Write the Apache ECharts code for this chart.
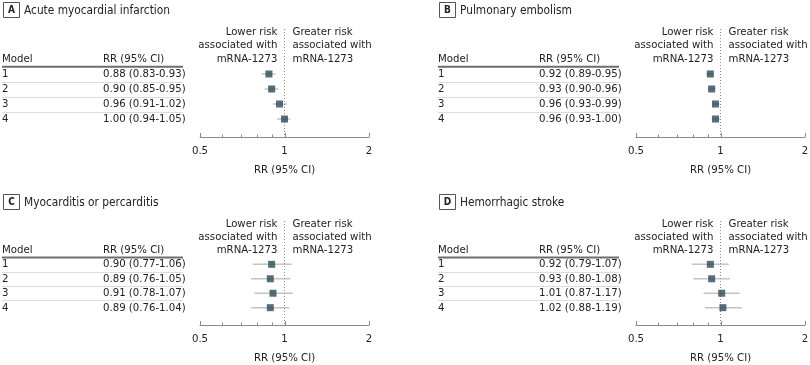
<!DOCTYPE html>
<html><head><meta charset="utf-8">
<script src="https://cdn.jsdelivr.net/npm/echarts@6/dist/echarts.min.js"></script>
<style>html,body{margin:0;padding:0;background:#fff}#c{width:810px;height:365px}</style>
</head><body><div id="c"></div>
<script>
// ---- data ----
const panelLetters = ['A', 'B', 'C', 'D'];
const panelTitles = ['Acute myocardial infarction', 'Pulmonary embolism', 'Myocarditis or percarditis', 'Hemorrhagic stroke'];
const models = ['1', '2', '3', '4'];
const rrA = [0.88, 0.90, 0.96, 1.00], loA = [0.83, 0.85, 0.91, 0.94], hiA = [0.93, 0.95, 1.02, 1.05];
const rrB = [0.92, 0.93, 0.96, 0.96], loB = [0.89, 0.90, 0.93, 0.93], hiB = [0.95, 0.96, 0.99, 1.00];
const rrC = [0.90, 0.89, 0.91, 0.89], loC = [0.77, 0.76, 0.78, 0.76], hiC = [1.06, 1.05, 1.07, 1.04];
const rrD = [0.92, 0.93, 1.01, 1.02], loD = [0.79, 0.80, 0.87, 0.88], hiD = [1.07, 1.08, 1.17, 1.19];
const xTicks = [0.5, 0.6, 0.7, 0.8, 0.9, 1, 2];
const xTickLabels = ['0.5', '1', '2'];
const xMajor = [0.5, 1, 2];
const headerModel = 'Model', headerRR = 'RR (95% CI)', axisTitle = 'RR (95% CI)';
const lowerText = ['Lower risk', 'associated with', 'mRNA-1273'];
const greaterText = ['Greater risk', 'associated with', 'mRNA-1273'];

const panels = [
  {rr: rrA, lo: loA, hi: hiA},
  {rr: rrB, lo: loB, hi: hiB},
  {rr: rrC, lo: loC, hi: hiC},
  {rr: rrD, lo: loD, hi: hiD}
];

// ---- layout ----
const FF = "'Liberation Sans Narrow','DejaVu Sans Condensed','Roboto',sans-serif";
const FS = 11.3;
const offsets = [[0, 0], [436, 0], [0, 192], [436, 192]];
const yMin = -2, yMax = 5.2;
const TXT = '#222';

const chart = echarts.init(document.getElementById('c'), null, {renderer: 'canvas'});
const grids = [], xAxes = [], yAxes = [], series = [], graphics = [];

panels.forEach((p, k) => {
  const [ox, oy] = offsets[k];
  grids.push({left: 200 + ox, width: 169, top: 29 + oy, height: 108});
  xAxes.push({
    gridIndex: k, type: 'log', logBase: 2, min: 0.5, max: 2, position: 'bottom',
    axisLine: {show: true, onZero: false, lineStyle: {color: '#8a8a8a', width: 1}},
    axisTick: {show: false}, axisLabel: {show: false}, splitLine: {show: false},
    name: axisTitle, nameLocation: 'middle', nameGap: 28,
    nameTextStyle: {color: TXT, fontSize: FS, fontFamily: FF}
  });
  yAxes.push({gridIndex: k, type: 'value', inverse: true, min: yMin, max: yMax, show: false});

  // table + direction labels
  series.push({
    type: 'custom', xAxisIndex: k, yAxisIndex: k, silent: true, clip: false,
    data: models.map((m, i) => [1, i + 1]),
    renderItem: (params, api) => {
      const i = params.dataIndex;
      const y = api.coord([1, i + 1])[1];
      const txt = (t, x, yy, align) => ({type: 'text', style: {text: t, x: x, y: yy, fill: TXT, fontSize: FS, fontFamily: FF, align: align || 'left', verticalAlign: 'middle'}});
      const ch = [
        txt(models[i], ox + 2, y),
        txt(p.rr[i].toFixed(2) + ' (' + p.lo[i].toFixed(2) + '-' + p.hi[i].toFixed(2) + ')', ox + 103, y)
      ];
      if (i < 3) {
        const ys = Math.round(api.coord([1, i + 1.5])[1]) + 0.5;
        ch.push({type: 'line', shape: {x1: ox + 2, y1: ys, x2: ox + 183, y2: ys}, style: {stroke: '#dcdcdc', lineWidth: 1}});
      }
      if (i === 0) {
        const yh = api.coord([1, 0])[1];
        ch.push(txt(headerModel, ox + 2, yh));
        ch.push(txt(headerRR, ox + 103, yh));
        const yl = api.coord([1, 0.52])[1];
        ch.push({type: 'line', shape: {x1: ox + 2, y1: yl, x2: ox + 183, y2: yl}, style: {stroke: '#6e6e6e', lineWidth: 2}});
        const xc = api.coord([1, 0])[0];
        for (let j = 0; j < 3; j++) {
          const yy = api.coord([1, -0.9 * (2 - j)])[1];
          ch.push(txt(lowerText[j], xc - 7, yy, 'right'));
          ch.push(txt(greaterText[j], xc + 8, yy, 'left'));
        }
      }
      return {type: 'group', children: ch};
    }
  });

  // axis ticks and labels
  series.push({
    type: 'custom', xAxisIndex: k, yAxisIndex: k, silent: true, clip: false,
    data: xTicks.map(v => [v, yMax]),
    renderItem: (params, api) => {
      const v = api.value(0);
      const pt = api.coord([v, yMax]);
      const mi = xMajor.indexOf(v);
      const len = mi >= 0 ? 4 : 2.5;
      const x = Math.round(pt[0]) + 0.5;
      const ch = [{type: 'line', shape: {x1: x, y1: pt[1], x2: x, y2: pt[1] - len}, style: {stroke: '#8a8a8a', lineWidth: 1}}];
      if (mi >= 0) ch.push({type: 'text', style: {text: xTickLabels[mi], x: pt[0], y: pt[1] + 14, fill: TXT, fontSize: FS, fontFamily: FF, align: 'center', verticalAlign: 'middle'}});
      return {type: 'group', children: ch};
    }
  });

  // confidence intervals + reference line
  series.push({
    type: 'custom', xAxisIndex: k, yAxisIndex: k, silent: true,
    data: models.map((m, i) => [p.lo[i], p.hi[i], i + 1]),
    renderItem: (params, api) => {
      const a = api.coord([api.value(0), api.value(2)]);
      const b = api.coord([api.value(1), api.value(2)]);
      return {type: 'line', shape: {x1: a[0], y1: a[1], x2: b[0], y2: b[1]}, style: {stroke: '#c4c4c4', lineWidth: 1.5}};
    },
    markLine: {
      silent: true, symbol: 'none', label: {show: false},
      lineStyle: {type: [1, 2], color: '#8a8a8a', width: 1},
      data: [{xAxis: 1}]
    }
  });

  // point estimates
  series.push({
    type: 'scatter', xAxisIndex: k, yAxisIndex: k, silent: true,
    symbol: 'rect', symbolSize: 7,
    itemStyle: {color: '#2c4a55'},
    data: models.map((m, i) => [p.rr[i], i + 1]),
    z: 5
  });

  // title with letter box
  graphics.push({type: 'rect', shape: {x: ox + 3.5, y: oy + 2.5, width: 16, height: 15}, style: {fill: '#fff', stroke: '#555', lineWidth: 1}});
  graphics.push({type: 'text', style: {text: panelLetters[k], x: ox + 11.5, y: oy + 10.5, fill: TXT, font: 'bold 10px ' + FF, align: 'center', verticalAlign: 'middle'}});
  graphics.push({type: 'text', style: {text: panelTitles[k], x: ox + 24, y: oy + 10.5, fill: TXT, fontSize: 11.8, fontFamily: FF, align: 'left', verticalAlign: 'middle'}});
});

chart.setOption({
  animation: false,
  backgroundColor: '#fff',
  grid: grids, xAxis: xAxes, yAxis: yAxes, series: series, graphic: graphics
});
</script>
</body></html>
